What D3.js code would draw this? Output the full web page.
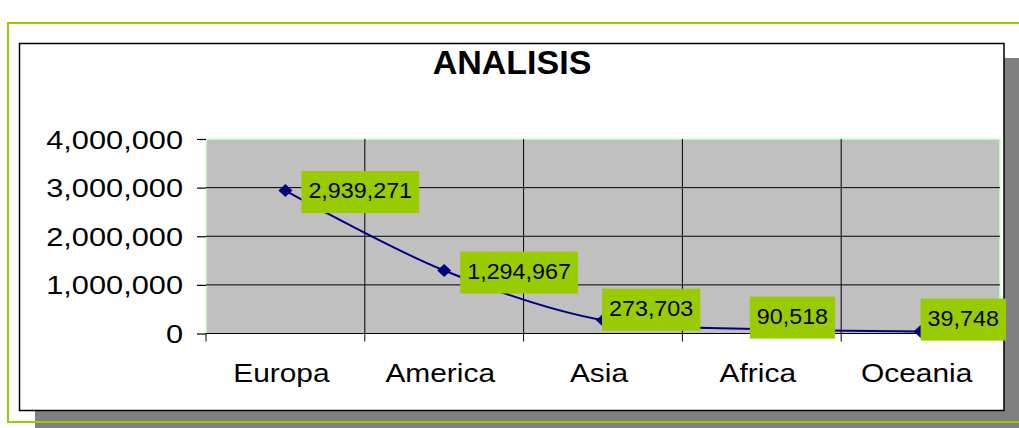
<!DOCTYPE html>
<html>
<head>
<meta charset="utf-8">
<script src="https://cdn.jsdelivr.net/npm/d3@7"></script>
<style>
  html, body { margin: 0; padding: 0; background: #ffffff; }
  svg { display: block; }
  text { font-family: "Liberation Sans", Arial, sans-serif; }
</style>
</head>
<body>
<svg id="chart" width="1019" height="428"></svg>
<script>
// ---- data ----
const title = "ANALISIS";
const categories = ["Europa", "America", "Asia", "Africa", "Oceania"];
const values = [2939271, 1294967, 273703, 90518, 39748];
const yTicks = [0, 1000000, 2000000, 3000000, 4000000];

// ---- layout (not data) ----
const W = 1019, H = 428;
const plot = { left: 206, right: 1000, top: 139, bottom: 333.5 };
// label box offsets relative to its point (dx: box left, dy: box top)
const labelDx = [16, 16, -1, -12, 0];
const labelDy = [-19.5, -19, -31.5, -32.5, -33];

const svg = d3.select("#chart");

// outer green frame
svg.append("rect").attr("x", 8).attr("y", 23).attr("width", 1020).attr("height", 399)
  .attr("fill", "#ffffff").attr("stroke", "#99CC00").attr("stroke-width", 2);

// shadow
svg.append("rect").attr("x", 35).attr("y", 58).attr("width", 1000).attr("height", 370)
  .attr("fill", "#808080");
// chart area
svg.append("rect").attr("x", 19.5).attr("y", 43.5).attr("width", 984.5).attr("height", 367)
  .attr("fill", "#ffffff").attr("stroke", "#000000").attr("stroke-width", 1.5);
// green frame bottom line drawn over shadow
svg.append("line").attr("x1", 8).attr("x2", 1019).attr("y1", 422).attr("y2", 422)
  .attr("stroke", "#99CC00").attr("stroke-width", 2);

// title
svg.append("text").attr("x", 512).attr("y", 74).attr("text-anchor", "middle")
  .attr("font-size", 34).attr("font-weight", "bold").attr("fill", "#000").text(title);

// scales
const x = d3.scaleBand().domain(categories).range([plot.left, plot.right]).padding(0);
const y = d3.scaleLinear().domain([0, 4000000]).range([plot.bottom, plot.top]);
const cx = c => x(c) + x.bandwidth() / 2;

// plot background
svg.append("rect").attr("x", plot.left).attr("y", plot.top)
  .attr("width", plot.right - plot.left).attr("height", plot.bottom - plot.top)
  .attr("fill", "#C0C0C0");
// light green plot border (top/right/left)
svg.append("path")
  .attr("d", `M${plot.left},${plot.bottom}V${plot.top}H${plot.right}V${plot.bottom}`)
  .attr("fill", "none").attr("stroke", "#CCFFCC").attr("stroke-width", 1.5);

// horizontal gridlines
svg.append("g").selectAll("line").data(yTicks.filter(d => d > 0 && d < 4000000)).join("line")
  .attr("x1", plot.left).attr("x2", plot.right)
  .attr("y1", d => y(d)).attr("y2", d => y(d))
  .attr("stroke", "#000").attr("stroke-width", 1);

// vertical gridlines at category boundaries (extend below axis as ticks)
const bounds = categories.map(c => x(c)).slice(1);
svg.append("g").selectAll("line").data(bounds).join("line")
  .attr("x1", d => d).attr("x2", d => d)
  .attr("y1", plot.top).attr("y2", plot.bottom + 8)
  .attr("stroke", "#000").attr("stroke-width", 1);
svg.append("line").attr("x1", plot.left).attr("x2", plot.left)
  .attr("y1", plot.bottom).attr("y2", plot.bottom + 8)
  .attr("stroke", "#000").attr("stroke-width", 1);

// y axis ticks
const yAxis = d3.axisLeft(y).tickValues(yTicks).tickSize(9).tickFormat(d3.format(","));
const ya = svg.append("g").attr("transform", `translate(${plot.left},0)`).call(yAxis);
ya.select(".domain").remove();
ya.selectAll(".tick line").attr("stroke", "#000").attr("stroke-width", 1.2);
ya.selectAll(".tick text").remove();
ya.selectAll(".tick").append("text")
  .attr("transform", "translate(-23,9) scale(1.23,1)")
  .attr("text-anchor", "end").attr("font-size", 25).attr("fill", "#000")
  .text(d => d3.format(",")(d));

// x axis line
svg.append("line").attr("x1", plot.left).attr("x2", plot.right)
  .attr("y1", plot.bottom).attr("y2", plot.bottom)
  .attr("stroke", "#000").attr("stroke-width", 1.2);

// category labels
svg.append("g").selectAll("text").data(categories).join("text")
  .attr("transform", d => `translate(${cx(d) - 4},382) scale(1.15,1)`)
  .attr("text-anchor", "middle").attr("font-size", 26).attr("fill", "#000")
  .text(d => d);

// line
const pts = categories.map((c, i) => [cx(c), y(values[i])]);
svg.append("path").datum(pts)
  .attr("d", d3.line().curve(d3.curveCatmullRom.alpha(0.5)))
  .attr("fill", "none").attr("stroke", "#000080").attr("stroke-width", 2);

// diamond markers
const diamond = { draw(ctx, size) { const w = 7, h = 6.5;
  ctx.moveTo(0, -h); ctx.lineTo(w, 0); ctx.lineTo(0, h); ctx.lineTo(-w, 0); ctx.closePath(); } };
svg.append("g").selectAll("path").data(pts).join("path")
  .attr("transform", d => `translate(${d[0]},${d[1]})`)
  .attr("d", d3.symbol().type(diamond).size(100)())
  .attr("fill", "#000080");

// data labels
const lg = svg.append("g").selectAll("g").data(pts).join("g")
  .attr("transform", (d, i) => `translate(${d[0] + labelDx[i]},${d[1] + labelDy[i]})`);
const rects = lg.append("rect").attr("fill", "#99CC00").attr("height", 42);
const sx = 1.06;
lg.append("text").attr("font-size", 22).attr("fill", "#000")
  .text((d, i) => d3.format(",")(values[i]))
  .each(function () {
    const w = this.getComputedTextLength() * sx;
    d3.select(this).attr("transform", `translate(7,27) scale(${sx},1)`);
    d3.select(this.parentNode).select("rect").attr("width", w + 14);
  });
</script>
</body>
</html>
